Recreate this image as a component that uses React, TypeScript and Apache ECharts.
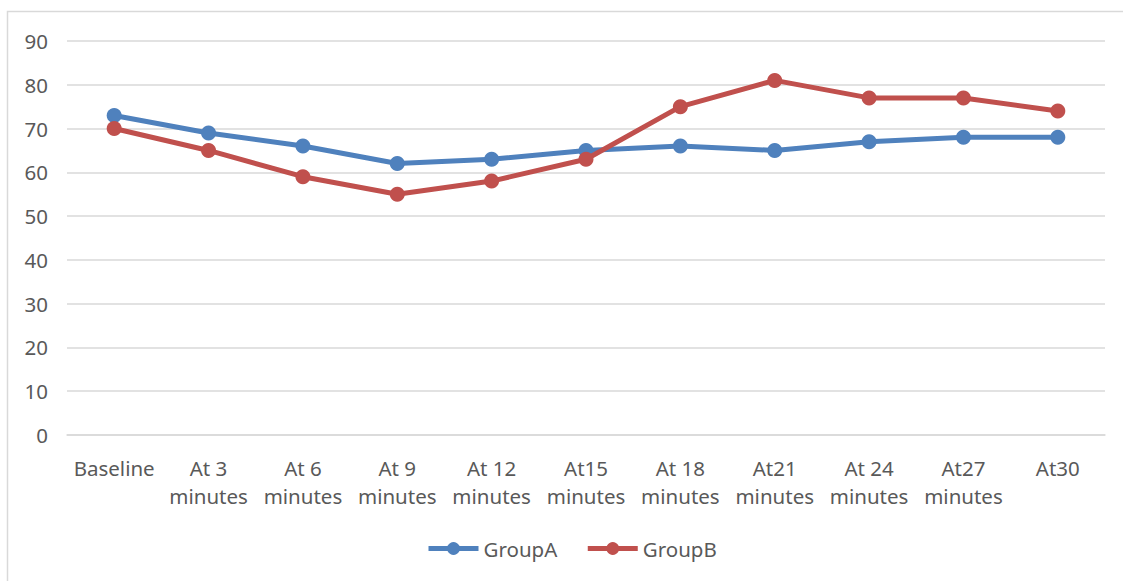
import React, { useEffect, useRef } from "react";
import * as echarts from "echarts";

const categories = [
  "Baseline",
  "At 3 minutes",
  "At 6 minutes",
  "At 9 minutes",
  "At 12 minutes",
  "At15 minutes",
  "At 18 minutes",
  "At21 minutes",
  "At 24 minutes",
  "At27 minutes",
  "At30",
];
const groupA = [73, 69, 66, 62, 63, 65, 66, 65, 67, 68, 68];
const groupB = [70, 65, 59, 55, 58, 63, 75, 81, 77, 77, 74];
const yTicks = { min: 0, max: 90, interval: 10 };

const FONT = "'Noto Sans', 'Open Sans', sans-serif";
const TEXT = "#595959";
const BLUE = "#4F81BD";
const RED = "#C0504D";

export default function App() {
  const ref = useRef<HTMLDivElement>(null);
  useEffect(() => {
    if (!ref.current) return;
    const chart = echarts.init(ref.current, undefined, { renderer: "svg" });
    const mkSeries = (name: string, data: number[], color: string) => ({
      name,
      type: "line",
      data,
      symbol: "circle",
      symbolSize: 15,
      lineStyle: { color, width: 5 },
      itemStyle: { color },
      z: name === "GroupB" ? 3 : 2,
    });
    chart.setOption({
      animation: false,
      textStyle: { fontFamily: FONT },
      graphic: [
        {
          type: "rect",
          shape: { x: 7.5, y: 11.5, width: 1140, height: 600 },
          style: { fill: "none", stroke: "#D9D9D9", lineWidth: 1.5 },
          silent: true,
        },
      ],
      grid: { left: 67, right: 18, top: 41, bottom: 146, containLabel: false },
      legend: {
        bottom: 17,
        left: 421,
        itemWidth: 50,
        itemHeight: 16,
        itemGap: 28,
        lineStyle: { width: 5 },
        textStyle: { color: TEXT, fontSize: 20.5, fontFamily: FONT },
        data: ["GroupA", "GroupB"],
      },
      xAxis: {
        type: "category",
        data: categories,
        boundaryGap: true,
        axisLine: { show: true, lineStyle: { color: "#D9D9D9", width: 1.5 } },
        axisTick: { show: false },
        axisLabel: {
          color: TEXT,
          fontSize: 20.5,
          fontFamily: FONT,
          margin: 19,
          lineHeight: 28,
          interval: 0,
          formatter: (v: string) => {
            const i = v.lastIndexOf(" ");
            return i > 0 && v.endsWith("minutes") ? v.slice(0, i) + "\n" + v.slice(i + 1) : v;
          },
        },
      },
      yAxis: {
        type: "value",
        min: yTicks.min,
        max: yTicks.max,
        interval: yTicks.interval,
        axisLine: { show: false },
        axisTick: { show: false },
        splitLine: { lineStyle: { color: "#D9D9D9", width: 1.5 } },
        axisLabel: { color: TEXT, fontSize: 20.5, fontFamily: FONT, margin: 19 },
      },
      series: [mkSeries("GroupA", groupA, BLUE), mkSeries("GroupB", groupB, RED)],
    });
    return () => chart.dispose();
  }, []);
  return (
    <div
      ref={ref}
      style={{ position: "fixed", left: 0, top: 0, width: 1123, height: 581, background: "#fff" }}
    />
  );
}
